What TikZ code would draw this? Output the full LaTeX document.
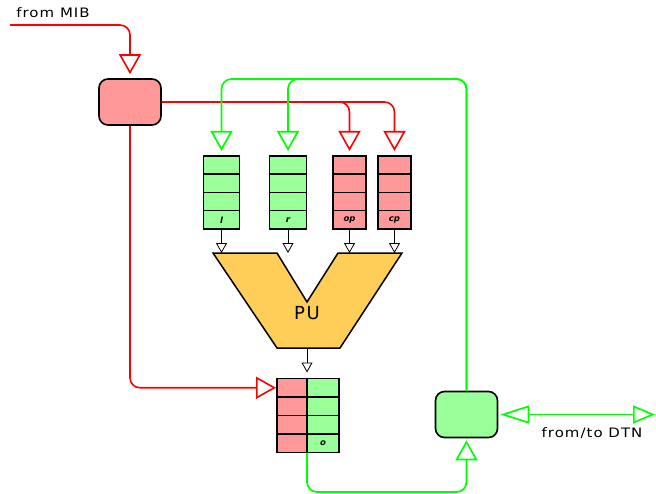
\documentclass[tikz,border=0pt]{standalone}
\usepackage{fontspec}
\setmainfont{DejaVu Sans}
\usetikzlibrary{positioning}
\usetikzlibrary{arrows.meta}

\definecolor{lred}{HTML}{FF9999}
\definecolor{lgreen}{HTML}{99FF99}
\definecolor{puyellow}{HTML}{FFCE59}
\definecolor{wred}{HTML}{FF0000}
\definecolor{wgreen}{HTML}{00FF00}

\tikzset{
  bigtip/.style={-{Triangle[open,length=20pt,width=22pt]}},
  smalltip/.style={-{Triangle[open,length=10pt,width=11pt]}},
  redline/.style={draw=wred, line width=1.6pt, rounded corners=10pt},
  greenline/.style={draw=wgreen, line width=1.7pt, rounded corners=10pt},
  ctrl/.style={draw, line width=1.6pt, rounded corners=9pt, minimum width=62pt, minimum height=46pt},
  cell/.style={draw, line width=1.5pt, outer sep=0pt, inner sep=0pt},
  qlabel/.style={font=\fontsize{8.5}{9}\selectfont\bfseries\itshape},
  txt/.style={font=\fontsize{13}{15}\selectfont\addfontfeature{FakeStretch=1.15,LetterSpace=8}}
}

\begin{document}
\begin{tikzpicture}[x=1pt,y=-1pt]
  \useasboundingbox (0,0) rectangle (656,493);

  % control boxes
  \node[ctrl, fill=lred] (mibbox) at (130,102) {};
  \node[ctrl, fill=lgreen] (dtnbox) at (466.5,414.5) {};

  % input queues
  \foreach \q/\x/\w/\c in {l/221.5/36/lgreen, r/288/37/lgreen, op/349.5/33/lred, cp/394.5/33/lred} {
    \node[cell, fill=\c, minimum width=\w pt, minimum height=18.25pt] (\q1) at (\x,165.1) {};
    \foreach \i [count=\j from 2] in {1,2,3}
      \node[cell, fill=\c, minimum width=\w pt, minimum height=18.25pt, below=0pt of \q\i] (\q\j) {};
    \node[qlabel] at (\q4) {\q};
  }

  % output queue
  \node[cell, fill=lred, minimum width=30pt, minimum height=18.5pt] (or1) at (292,387.75) {};
  \node[cell, fill=lgreen, minimum width=32pt, minimum height=18.5pt] (og1) at (323,387.75) {};
  \foreach \i [count=\j from 2] in {1,2,3} {
    \node[cell, fill=lred, minimum width=30pt, minimum height=18.5pt, below=0pt of or\i] (or\j) {};
    \node[cell, fill=lgreen, minimum width=32pt, minimum height=18.5pt, below=0pt of og\i] (og\j) {};
  }
  \node[qlabel] at (og4) {o};

  % processing unit
  \draw[line width=1.5pt, fill=puyellow] (213,253) -- (277,253) -- (307,302) -- (338,253)
    -- (402,253) -- (340,348) -- (277,348) -- cycle;
  \node[font=\fontsize{18}{20}\selectfont\addfontfeature{LetterSpace=10}] (pu) at (307,313) {PU};
  \coordinate (putop) at (307,253);
  \coordinate (pubot) at (307,348);

  \foreach \q in {l4,r4,op4,cp4}
    \draw[smalltip, line width=0.8pt] (\q.south) -- (\q.south |- putop);
  \draw[smalltip, line width=0.8pt] (pubot) -- ([yshift=6pt]or1.north east);

  % red connectors
  \coordinate (mib) at (10,25);
  \draw[redline, bigtip, shorten >=4pt] (mib) -| (mibbox.north);
  \draw[redline, bigtip, shorten >=5pt] (mibbox.east) -| (op1.north);
  \draw[redline, bigtip, shorten >=5pt] (mibbox.east) -| (cp1.north);
  \draw[redline, bigtip, shorten >=1pt] (mibbox.south) |- (or1.west);

  % green connectors
  \coordinate (gbus) at (466.5,79);
  \coordinate (gbot) at (400,492);
  \coordinate (dtn) at (655,414.5);
  \draw[greenline, bigtip, shorten >=5pt] (dtnbox.north) -- (gbus) -| (l1.north);
  \draw[greenline, bigtip, shorten >=5pt] (dtnbox.north) -- (gbus) -| (r1.north);
  \draw[greenline, bigtip, shorten >=2pt] (or4.south east) |- (gbot) -| (dtnbox.south);
  \draw[draw=wgreen, line width=1.7pt, {Triangle[open,length=29pt,width=18pt]}-{Triangle[open,length=22pt,width=18pt]}, shorten <=2pt] (dtnbox.east) -- (dtn);

  % texts
  \node[txt] (mibtxt) at (53,13) {from MIB};
  \node[txt] (dtntxt) at (592,433) {from/to DTN};
\end{tikzpicture}
\end{document}
